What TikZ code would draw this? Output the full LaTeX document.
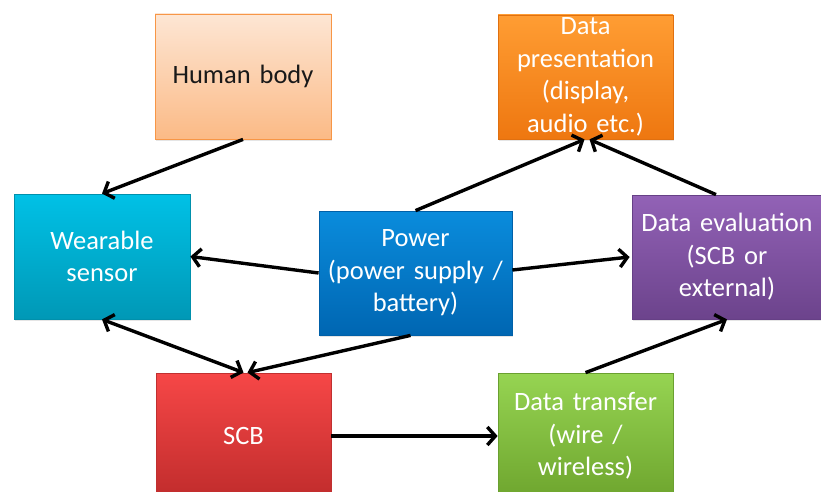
\documentclass[tikz,border=0pt]{standalone}
\usepackage{fontspec}
\setmainfont{Carlito}
\usetikzlibrary{arrows.meta,calc,shadows}
\definecolor{hbT}{HTML}{FDE6D4}
\definecolor{hbB}{HTML}{FBBA86}
\definecolor{hbD}{HTML}{F79646}
\definecolor{dpT}{HTML}{FF9D33}
\definecolor{dpB}{HTML}{EE7710}
\definecolor{dpD}{HTML}{E07010}
\definecolor{wsT}{HTML}{00C1E6}
\definecolor{wsB}{HTML}{0098B6}
\definecolor{wsD}{HTML}{0090AC}
\definecolor{pwT}{HTML}{0A8CDC}
\definecolor{pwB}{HTML}{0066B2}
\definecolor{pwD}{HTML}{0060A8}
\definecolor{deT}{HTML}{9262B6}
\definecolor{deB}{HTML}{6C438C}
\definecolor{deD}{HTML}{664086}
\definecolor{scT}{HTML}{F64747}
\definecolor{scB}{HTML}{C02C2C}
\definecolor{scD}{HTML}{C03030}
\definecolor{dtT}{HTML}{96D452}
\definecolor{dtB}{HTML}{6EA52E}
\definecolor{dtD}{HTML}{6AA030}
\tikzset{
  box/.style={rectangle, inner sep=0pt, align=center, text=white,
    font=\fontsize{26.5}{32.5}\selectfont, line width=0.8pt,
    drop shadow={opacity=0.2, shadow xshift=1.2pt, shadow yshift=-1.5pt}},
  conn/.style={line width=3.4pt, -{Straight Barb[length=8pt,width=18pt]}},
  conn2/.style={line width=3.4pt, {Straight Barb[length=8pt,width=18pt]}-{Straight Barb[length=8pt,width=18pt]}}
}
\begin{document}
\begin{tikzpicture}[x=1pt,y=-1pt]
\useasboundingbox (0,0) rectangle (821,492);
\clip (0,0) rectangle (821,492);
\fill[white] (0,0) rectangle (821,492);
\node[box, text=black!90, minimum width=176pt, minimum height=125pt, top color=hbT, bottom color=hbB, draw=hbD, text width=170pt] (hb) at (243,76.5) {Human body};
\node[box, minimum width=175pt, minimum height=124pt, top color=dpT, bottom color=dpB, draw=dpD, text width=170pt] (dp) at (585.5,77) {Data\\presentation\\(display,\\audio etc.)};
\node[box, minimum width=176pt, minimum height=125pt, top color=wsT, bottom color=wsB, draw=wsD, text width=170pt] (ws) at (102,256.5) {Wearable\\sensor};
\node[box, minimum width=193pt, minimum height=124pt, top color=pwT, bottom color=pwB, draw=pwD, text width=190pt] (pw) at (415.5,273) {Power\\(power supply /\\battery)};
\node[box, minimum width=190pt, minimum height=124pt, top color=deT, bottom color=deB, draw=deD, text width=186pt] (de) at (727,257) {Data evaluation\\(SCB or\\external)};
\node[box, minimum width=175pt, minimum height=126pt, top color=scT, bottom color=scB, draw=scD, text width=170pt] (scb) at (243.5,436) {SCB};
\node[box, minimum width=175pt, minimum height=126pt, top color=dtT, bottom color=dtB, draw=dtD, text width=170pt] (dt) at (585.5,436) {Data transfer\\(wire /\\wireless)};
\draw[conn] (hb.south) -- (ws.north);
\draw[conn] (pw.west) -- (ws.east);
\draw[conn] (pw.north) -- ($(dp.south)+(-1,0)$);
\draw[conn] (de.100) -- ($(dp.south)+(4,0)$);
\draw[conn] ($(pw.east)+(0,-3)$) -- ($(de.west)+(-2,0)$);
\draw[conn2] (ws.south) -- (scb.north);
\draw[conn] ($(pw.south)+(-5,0)$) -- ($(scb.north)+(4,0)$);
\draw[conn] (scb.east) -- (dt.west);
\draw[conn] (dt.north) -- (de.south);
\end{tikzpicture}
\end{document}
